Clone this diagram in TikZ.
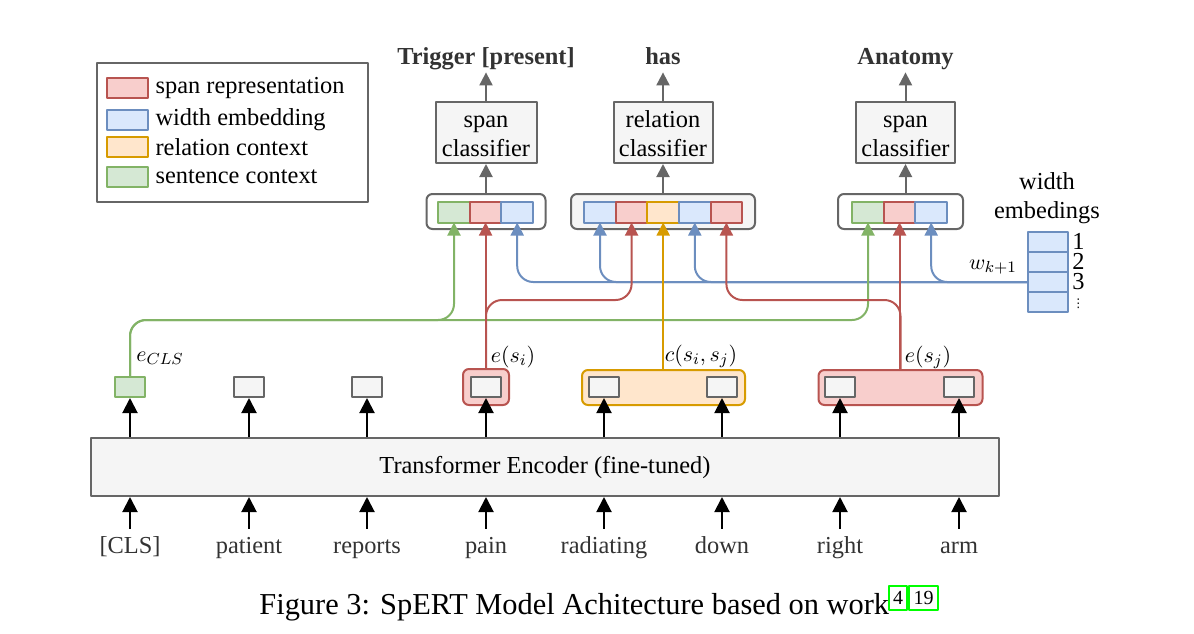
\documentclass[tikz,border=0pt]{standalone}
\usepackage{fontspec}
\setmainfont{Liberation Serif}
\newfontfamily\symfont{DejaVu Sans}
\usetikzlibrary{arrows.meta,positioning}
\definecolor{gfill}{HTML}{F5F5F5}
\definecolor{gline}{HTML}{666666}
\definecolor{rfill}{HTML}{F8CECC}
\definecolor{rline}{HTML}{B85450}
\definecolor{bfill}{HTML}{DAE8FC}
\definecolor{bline}{HTML}{6C8EBF}
\definecolor{ofill}{HTML}{FFE6CC}
\definecolor{oline}{HTML}{D79B00}
\definecolor{sfill}{HTML}{D5E8D4}
\definecolor{sline}{HTML}{82B366}
\definecolor{dtext}{HTML}{333333}
\definecolor{linkc}{HTML}{00FF00}
\begin{document}
\begin{tikzpicture}[x=0.5pt,y=-0.5pt,line join=round,font=\fontsize{12.2}{14.5}\selectfont,
	>={Triangle[length=6.5pt,width=6.5pt]},
	box/.style={draw=gline,fill=gfill,line width=1pt,align=center,inner sep=0pt},
	clsbox/.style={box,minimum width=49.5pt,minimum height=30.5pt,text height=23.5pt,text depth=0pt},
	cell/.style={line width=1pt,minimum width=15.8pt,minimum height=10.5pt,inner sep=0pt,outer sep=0pt},
	spanc/.style={cell,draw=rline,fill=rfill},
	widthc/.style={cell,draw=bline,fill=bfill},
	relc/.style={cell,draw=oline,fill=ofill},
	sentc/.style={cell,draw=sline,fill=sfill},
	tok/.style={draw=gline,fill=gfill,line width=1pt,minimum width=15pt,minimum height=10pt,inner sep=0pt},
	grp/.style={draw=gline,line width=1pt,rounded corners=3pt,minimum height=17.5pt,inner sep=0pt},
	hl/.style={line width=1pt,rounded corners=3pt,minimum height=17.5pt,inner sep=0pt},
	ttl/.style={anchor=base,font=\fontsize{12.2}{14.5}\selectfont\bfseries,text=dtext,text depth=0pt,inner sep=4pt},
	word/.style={anchor=base,text=dtext,text height=8pt,inner sep=4pt},
	lbl/.style={font=\fontsize{11}{13}\selectfont,inner sep=0pt},
	idx/.style={inner xsep=2pt,inner ysep=0pt,text height=7pt,text depth=0pt},
	garr/.style={->,draw=gline,line width=1pt},
	inarr/.style={-{Triangle[length=7.5pt,width=7.5pt]},line width=1pt},
	carr/.style={->,line width=1pt,rounded corners=8pt}]
	\useasboundingbox (0,0) rectangle (1194,633);
	% legend
	\draw[gline,line width=1pt] (97,63) rectangle (368,202);
	\foreach \y/\f/\d/\t in {88/rfill/rline/span representation,120/bfill/bline/width embedding,
		147/ofill/oline/relation context,177/sfill/sline/sentence context}{
		\node[cell,draw=\d,fill=\f,minimum width=20.5pt,minimum height=10pt] (sw\y) at (127,\y) {};
		\node[right=0.5pt of sw\y] {\t};
	}
	% classifiers
	\node[ttl] (t1) at (486,64) {Trigger [present]};
	\node[ttl] (t2) at (663,64) {has};
	\node[ttl] (t3) at (905.5,64) {Anatomy};
	\node[clsbox,minimum width=50.5pt] (sc1) at (486,132.5) {span\\classifier};
	\node[clsbox] (rc) at (663,132.5) {relation\\classifier};
	\node[clsbox] (sc2) at (905.5,132.5) {span\\classifier};
	\draw[garr] (sc1) -- (t1);
	\draw[garr] (rc) -- (t2);
	\draw[garr] (sc2) -- (t3);
	% concatenated inputs
	\node[grp,fill=white,minimum width=59.5pt] (g1) at (486,211.5) {};
	\node[grp,fill=gfill,minimum width=92pt] (g2) at (663,211.5) {};
	\node[grp,fill=white,minimum width=62.5pt] (g3) at (900.5,211.5) {};
	\node[sentc] (c1g) at (454,212) {};
	\node[spanc,right=0pt of c1g] (c1r) {};
	\node[widthc,right=0pt of c1r] (c1b) {};
	\node[widthc] (c2b1) at (600,212) {};
	\node[spanc,right=0pt of c2b1] (c2r1) {};
	\node[relc,right=0pt of c2r1] (c2o) {};
	\node[widthc,right=0pt of c2o] (c2b2) {};
	\node[spanc,right=0pt of c2b2] (c2r2) {};
	\node[sentc] (c3g) at (868,212) {};
	\node[spanc,right=0pt of c3g] (c3r) {};
	\node[widthc,right=0pt of c3r] (c3b) {};
	\draw[garr] (g1.north -| sc1) -- (sc1);
	\draw[garr] (g2.north -| rc) -- (rc);
	\draw[garr] (g3.north -| sc2) -- (sc2);
	% width embeddings
	\node[align=center] (wlbl) at (1047,198) {width\\embedings};
	\node[widthc,minimum width=20pt,minimum height=10pt] (we1) at (1048,242) {};
	\foreach \i/\j in {2/1,3/2,4/3}
		\node[widthc,minimum width=20pt,minimum height=10pt,below=0pt of we\j] (we\i) {};
	\foreach \i in {1,2,3}
		\node[idx,right=0pt of we\i] (n\i) {\i};
	\node[idx,right=0pt of we4,text height=5pt,font=\symfont\fontsize{6}{7}\selectfont] (n4) {⋮};
	\node[lbl] (wk) at (993,267) {$w_{k+1}$};
	% encoder and tokens
	\node[hl,draw=rline,fill=rfill,minimum width=23pt,minimum height=18pt] (spi) at (486,387) {};
	\node[hl,draw=oline,fill=ofill,minimum width=81.5pt] (ctx) at (663.5,387.5) {};
	\node[hl,draw=rline,fill=rfill,minimum width=82pt] (spj) at (900.5,387.5) {};
	\node[box,minimum width=454pt,minimum height=29pt] (enc) at (545,467) {Transformer Encoder (fine-tuned)};
	\node[tok,draw=sline,fill=sfill] (tk1) at (130,387) {};
	\foreach \x/\i in {249/2,367/3,486/4,604/5,722/6,840/7,959/8}
		\node[tok] (tk\i) at (\x,387) {};
	\foreach \x/\w [count=\i] in {130/{[CLS]},249/patient,367/reports,486/pain,604/radiating,722/down,840/right,959/arm}{
		\node[word] (w\i) at (\x,553) {\w};
		\draw[inarr] (w\i.north) -- (w\i.north |- enc.south);
		\draw[inarr] (enc.north -| tk\i) -- (tk\i.south);
	}
	\node[lbl] at (160,358) {$e_{CLS}$};
	\node[lbl] at (513,357) {$e(s_i)$};
	\node[lbl] at (701,356) {$c(s_i,s_j)$};
	\node[lbl] at (928,357) {$e(s_j)$};
	% connectors
	\coordinate (gbus) at (0,320);
	\coordinate (rbus) at (0,300);
	\foreach \c in {c1b,c2b1,c2b2,c3b}
		\draw[carr,bline] (we3.west) -| (\c.south);
	\draw[carr,sline] (tk1.north) |- (gbus -| c1g) -- (c1g.south);
	\draw[carr,sline] (tk1.north) |- (gbus -| c3g) -- (c3g.south);
	\draw[carr,rline] (c1r.south |- spi.north) -- (c1r.south);
	\draw[carr,rline] (spi.north) |- (rbus -| c2r1) -- (c2r1.south);
	\draw[carr,oline] (c2o.south |- ctx.north) -- (c2o.south);
	\draw[carr,rline] (c3r.south |- spj.north) -- (c3r.south);
	\draw[carr,rline] (spj.north) |- (rbus -| c2r2) -- (c2r2.south);
	% caption
	\node[anchor=base west,inner sep=0pt,font=\fontsize{15.2}{18}\selectfont] (cap) at (259,614) {Figure 3: SpERT Model Achitecture based on work};
	\node[draw=linkc,line width=1pt,inner sep=0pt,minimum width=9pt,minimum height=12pt,font=\fontsize{10}{12}\selectfont] (ref1) at (898,598) {4};
	\node[draw=linkc,line width=1pt,inner sep=0pt,minimum width=14.5pt,minimum height=12pt,font=\fontsize{10}{12}\selectfont] (ref2) at (923.5,598) {19};
\end{tikzpicture}
\end{document}
